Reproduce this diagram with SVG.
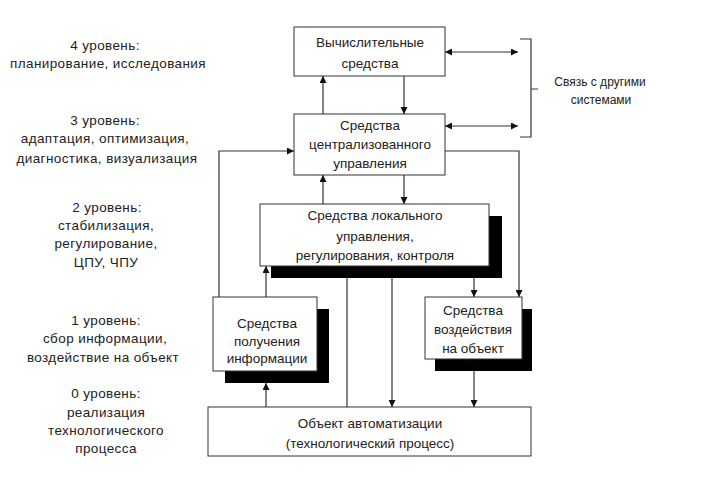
<svg xmlns="http://www.w3.org/2000/svg" width="708" height="497" viewBox="0 0 708 497">
<style>
text{font-family:"Liberation Sans",Arial,sans-serif;font-size:13.5px;fill:#222;text-anchor:middle;dominant-baseline:central}
.lv{letter-spacing:0.4px}
.box{fill:#fff;stroke:#333;stroke-width:1}
.sh{fill:#000}
.c{fill:none;stroke:#333;stroke-width:1.2}
.sm{font-size:12px}
</style>
<defs>
<marker id="ah" viewBox="0 0 10 10" refX="10" refY="5" markerWidth="9" markerHeight="7" markerUnits="userSpaceOnUse" orient="auto-start-reverse">
<path d="M0,0 L10,5 L0,10 z" fill="#111"/>
</marker>
</defs>
<rect width="708" height="497" fill="#fff"/>

<g id="levels" class="lv">
<text x="105" y="45">4  уровень:</text>
<text x="108" y="63">планирование,  исследования</text>
<text x="105" y="120">3  уровень:</text>
<text x="105" y="138">адаптация,  оптимизация,</text>
<text x="107" y="158">диагностика,  визуализация</text>
<text x="107" y="207">2  уровень:</text>
<text x="106" y="225">стабилизация,</text>
<text x="106" y="243">регулирование,</text>
<text x="106" y="262">ЦПУ,  ЧПУ</text>
<text x="106" y="320">1  уровень:</text>
<text x="105" y="338">сбор  информации,</text>
<text x="103" y="357">воздействие  на  объект</text>
<text x="106" y="393">0  уровень:</text>
<text x="106" y="412">реализация</text>
<text x="106" y="430">технологического</text>
<text x="106" y="448">процесса</text>
</g>

<g id="n1">
<rect class="box" x="294" y="27" width="151" height="49"/>
<text x="370" y="42">Вычислительные</text>
<text x="370" y="63">средства</text>
</g>

<g id="n2">
<rect class="box" x="294" y="114" width="151" height="61"/>
<text x="370" y="125">Средства</text>
<text x="370" y="144">централизованного</text>
<text x="370" y="163">управления</text>
</g>

<g id="n3">
<rect class="sh" x="271" y="216" width="231" height="62"/>
<rect class="box" x="260" y="204" width="229" height="62"/>
<text x="375" y="215">Средства локального</text>
<text x="375" y="236">управления,</text>
<text x="375" y="255">регулирования,  контроля</text>
</g>

<g id="n4">
<rect class="sh" x="435" y="309" width="97" height="62"/>
<rect class="box" x="425" y="297" width="97" height="62"/>
<text x="473" y="310">Средства</text>
<text x="473" y="329">воздействия</text>
<text x="473" y="348">на  объект</text>
</g>

<g id="n5">
<rect class="sh" x="225" y="309" width="104" height="74"/>
<rect class="box" x="213" y="297" width="104" height="74"/>
<text x="267" y="323">Средства</text>
<text x="267" y="341">получения</text>
<text x="267" y="358">информации</text>
</g>

<g id="n6">
<rect class="box" x="208" y="407" width="323" height="49"/>
<text x="370" y="423">Объект   автоматизации</text>
<text x="370" y="443">(технологический  процесс)</text>
</g>

<g id="other">
<text class="sm" x="600" y="82">Связь  с  другими</text>
<text class="sm" x="601" y="100">системами</text>
</g>

<g id="connectors">
<path class="c" d="M323,114 V76" marker-end="url(#ah)"/>
<path class="c" d="M404,76 V114" marker-end="url(#ah)"/>
<path class="c" d="M445,52 H518" marker-start="url(#ah)" marker-end="url(#ah)"/>
<path class="c" d="M445,126 H518" marker-start="url(#ah)" marker-end="url(#ah)"/>
<path class="c" d="M520,39 H531 V137 H520 M531,89 H538"/>
<path class="c" d="M219,297 V151 H294" marker-end="url(#ah)"/>
<path class="c" d="M445,151 H519 V297" marker-end="url(#ah)"/>
<path class="c" d="M404,175 V204" marker-end="url(#ah)"/>
<path class="c" d="M323,204 V175" marker-end="url(#ah)"/>
<path class="c" d="M266,297 V266" marker-end="url(#ah)"/>
<path class="c" d="M474,278 V297" marker-end="url(#ah)"/>
<path class="c" d="M347,278 V407"/>
<path class="c" d="M392,278 V407" marker-end="url(#ah)"/>
<path class="c" d="M266,407 V383" marker-end="url(#ah)"/>
<path class="c" d="M474,371 V407" marker-end="url(#ah)"/>
</g>
</svg>
